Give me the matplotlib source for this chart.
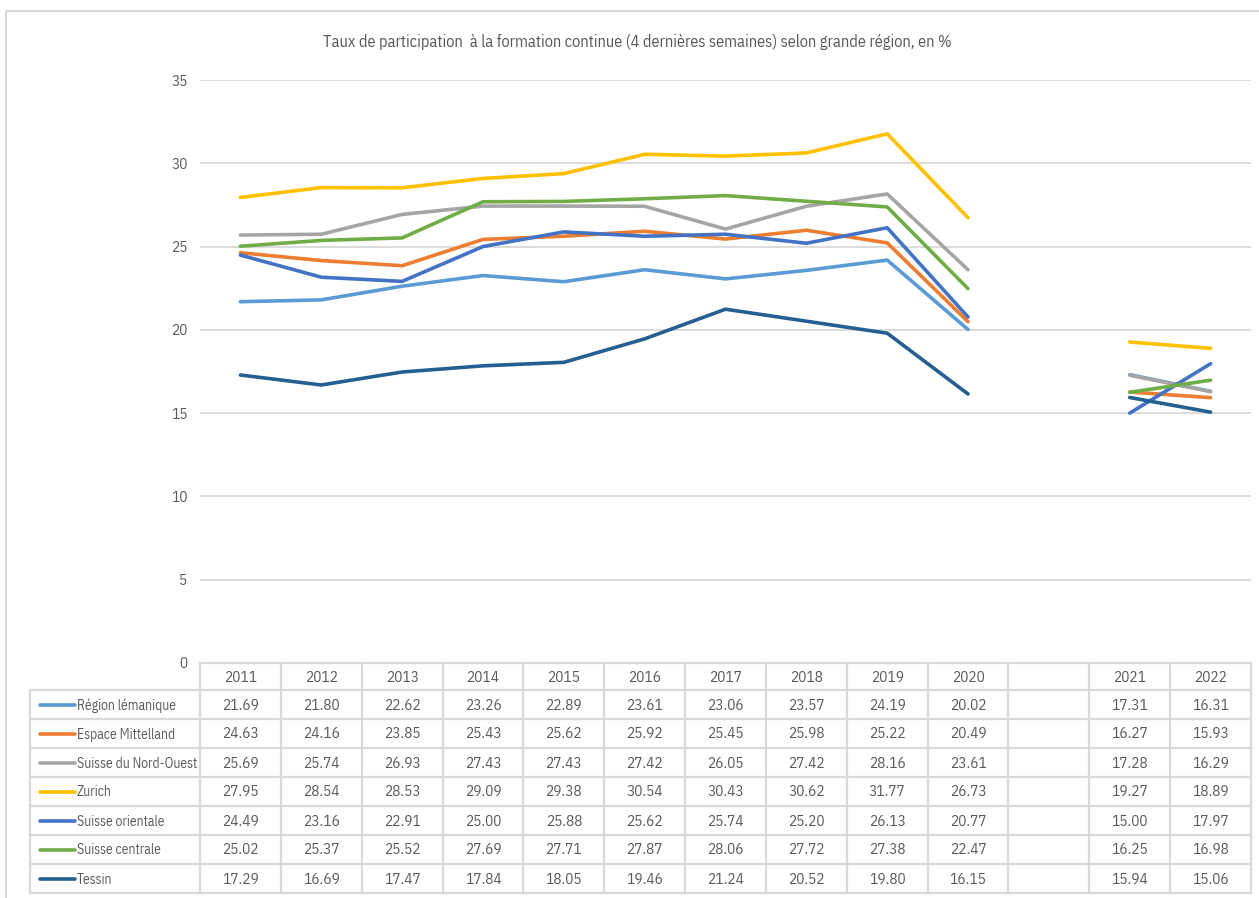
import numpy as np
import matplotlib
matplotlib.use('Agg')
import matplotlib.pyplot as plt
from matplotlib.patches import Rectangle

plt.rcParams['font.family'] = ['IBM Plex Sans Condensed', 'DejaVu Sans']

title = "Taux de participation  à la formation continue (4 dernières semaines) selon grande région, en %"
years = ['2011', '2012', '2013', '2014', '2015', '2016', '2017', '2018', '2019', '2020', '', '2021', '2022']
nan = np.nan
regions = ['Région lémanique', 'Espace Mittelland', 'Suisse du Nord-Ouest', 'Zurich',
           'Suisse orientale', 'Suisse centrale', 'Tessin']
colors = ['#5B9BD5', '#ED7D31', '#A5A5A5', '#FFC000', '#4472C4', '#70AD47', '#255E91']

region_lemanique = [21.69, 21.80, 22.62, 23.26, 22.89, 23.61, 23.06, 23.57, 24.19, 20.02, nan, 17.31, 16.31]
espace_mittelland = [24.63, 24.16, 23.85, 25.43, 25.62, 25.92, 25.45, 25.98, 25.22, 20.49, nan, 16.27, 15.93]
nord_ouest = [25.69, 25.74, 26.93, 27.43, 27.43, 27.42, 26.05, 27.42, 28.16, 23.61, nan, 17.28, 16.29]
zurich = [27.95, 28.54, 28.53, 29.09, 29.38, 30.54, 30.43, 30.62, 31.77, 26.73, nan, 19.27, 18.89]
suisse_orientale = [24.49, 23.16, 22.91, 25.00, 25.88, 25.62, 25.74, 25.20, 26.13, 20.77, nan, 15.00, 17.97]
suisse_centrale = [25.02, 25.37, 25.52, 27.69, 27.71, 27.87, 28.06, 27.72, 27.38, 22.47, nan, 16.25, 16.98]
tessin = [17.29, 16.69, 17.47, 17.84, 18.05, 19.46, 21.24, 20.52, 19.80, 16.15, nan, 15.94, 15.06]
series = [region_lemanique, espace_mittelland, nord_ouest, zurich,
          suisse_orientale, suisse_centrale, tessin]

W, H = 1259, 898
TXT = '#595959'
GRID = '#D9D9D9'

fig = plt.figure(figsize=(W / 100, H / 100), dpi=100)
fig.patch.set_facecolor('white')

def fx(x):
    return x / W

def fy(y):
    return 1 - y / H

# plot area
x0, x1 = 200, 1251
y_top, y_zero = 80, 663
ax = fig.add_axes([fx(x0), fy(y_zero), fx(x1) - fx(x0), fy(y_top) - fy(y_zero)])
ax.set_xlim(-0.5, len(years) - 0.5)
ax.set_ylim(0, 35)
ax.set_yticks(range(0, 36, 5))
ax.set_xticks([])
for s in ax.spines.values():
    s.set_visible(False)
ax.yaxis.grid(True, color=GRID, lw=1.3)
ax.set_axisbelow(True)
ax.tick_params(axis='y', length=0, pad=9, labelcolor=TXT, labelsize=11)

xs = np.arange(len(years))
for vals, c in zip(series, colors):
    ax.plot(xs, vals, color=c, lw=2.6, solid_capstyle='round', clip_on=False, zorder=3)

# overlay for table, title, border
ov = fig.add_axes([0, 0, 1, 1], facecolor='none')
ov.set_xlim(0, W)
ov.set_ylim(H, 0)
ov.axis('off')

ov.add_patch(Rectangle((6, 11), W + 10, H + 10, fill=False, ec=GRID, lw=1.5))
ov.text(637, 42, title, ha='center', va='center', fontsize=11.7, color=TXT)

ncol = len(years)
colw = (x1 - x0) / ncol
edges = [x0 + k * colw for k in range(ncol + 1)]
hdr_top, hdr_bot, tab_bot = 663, 690, 893
row_h = (tab_bot - hdr_bot) / len(regions)
leg_x = 30
tlw = 1.6

ov.plot([x0, x1], [hdr_top, hdr_top], color=GRID, lw=tlw)
for r in range(len(regions) + 1):
    y = hdr_bot + r * row_h
    ov.plot([leg_x, x1], [y, y], color=GRID, lw=tlw)
for e in edges:
    ov.plot([e, e], [hdr_top, tab_bot], color=GRID, lw=tlw)
ov.plot([leg_x, leg_x], [hdr_bot, tab_bot], color=GRID, lw=tlw)

FS = 11
FS_LEG = 9.8
for k, yr in enumerate(years):
    cx = (edges[k] + edges[k + 1]) / 2
    ov.text(cx, (hdr_top + hdr_bot) / 2 + 1, yr, ha='center', va='center', fontsize=FS, color=TXT)

for r, (name, vals, c) in enumerate(zip(regions, series, colors)):
    cy = hdr_bot + (r + 0.5) * row_h
    ov.plot([40, 75], [cy, cy], color=c, lw=2.6, solid_capstyle='round')
    ov.text(77, cy + 1, name, ha='left', va='center', fontsize=FS_LEG, color=TXT)
    for k, v in enumerate(vals):
        if np.isnan(v):
            continue
        cx = (edges[k] + edges[k + 1]) / 2
        ov.text(cx, cy + 1, f"{v:.2f}", ha='center', va='center', fontsize=FS, color=TXT)

fig.savefig('out.png', dpi=100, facecolor='white')
